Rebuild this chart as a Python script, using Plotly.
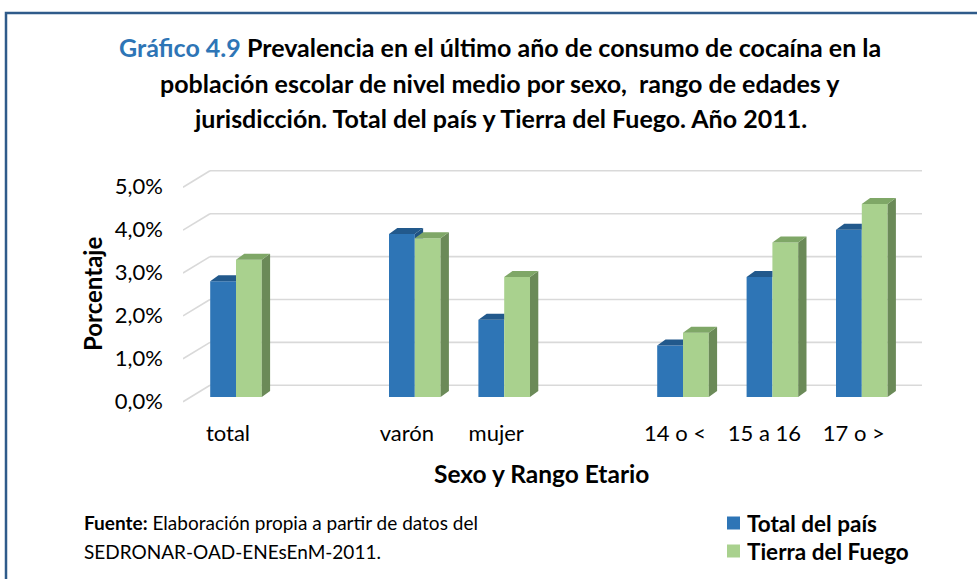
import plotly.graph_objects as go

# ---------------- data ----------------
categories = ["total", "varón", "mujer", "14 o <", "15 a 16", "17 o >"]
total_pais = [2.7, 3.8, 1.8, 1.2, 2.8, 3.9]
tierra_fuego = [3.2, 3.7, 2.8, 1.5, 3.6, 4.5]
series_names = ["Total del país", "Tierra del Fuego"]
y_ticks = [0, 1, 2, 3, 4, 5]
y_tick_text = ["0,0%", "1,0%", "2,0%", "3,0%", "4,0%", "5,0%"]

# ---------------- layout geometry (pixels) ----------------
W, H = 977, 579
PL, PR, PT, PB = 183, 922, 150, 410       # plot area
SLOT_PX = 89.4                              # px per category slot
UNIT_PX = 42.9                              # px per 1 %
X0_PX = 236                                 # px of first slot (bar junction)
Y0_PX = 397                                 # px of 0 % on bar front plane
GROUP_STARTS = {"varón", "14 o <"}          # an empty slot precedes these

FONT = "Lato, Carlito, 'Liberation Sans', sans-serif"
BLUE, BLUE_TOP, BLUE_SIDE = "#2E75B6", "#22598C", "#1F5283"
GREEN, GREEN_TOP, GREEN_SIDE = "#A9D18E", "#7FA767", "#6B8A58"
GRID = "#D9D9D9"
SERIES_COLORS = [BLUE, GREEN]

x_range = [(PL - X0_PX) / SLOT_PX, (PR - X0_PX) / SLOT_PX]
y_range = [-(PB - Y0_PX) / UNIT_PX, (Y0_PX - PT) / UNIT_PX]

BAR_W = 25.8 / SLOT_PX
DX = 8.3 / SLOT_PX          # depth offset in x units
DY = 6.0 / UNIT_PX          # depth offset in y units
FRONT_SHIFT_X = 8.0 / SLOT_PX
BACK_DY = (Y0_PX - 385.3) / UNIT_PX
FRONT_DY = (401.7 - Y0_PX) / UNIT_PX
BACK_X = (210 - X0_PX) / SLOT_PX


def px2paper(px, py):
    return (px - PL) / (PR - PL), (PB - py) / (PB - PT)


# slot positions
positions = []
slot = 0
for i, c in enumerate(categories):
    if i > 0:
        slot += 1
        if c in GROUP_STARTS:
            slot += 1
    positions.append(slot)


# ---------------- polygon helpers ----------------
def clip(poly, inside, inter):
    out = []
    n = len(poly)
    for i in range(n):
        cur, prev = poly[i], poly[i - 1]
        if inside(cur):
            if not inside(prev):
                out.append(inter(prev, cur))
            out.append(cur)
        elif inside(prev):
            out.append(inter(prev, cur))
    return out


def vx(c):
    def f(p, q):
        t = (c - p[0]) / (q[0] - p[0])
        return (c, p[1] + t * (q[1] - p[1]))
    return f


def hy(c):
    def f(p, q):
        t = (c - p[1]) / (q[1] - p[1])
        return (p[0] + t * (q[0] - p[0]), c)
    return f


def area(poly):
    s = 0.0
    for i in range(len(poly)):
        x1, y1 = poly[i - 1]
        x2, y2 = poly[i]
        s += x1 * y2 - x2 * y1
    return abs(s) / 2


def minus_front(poly, xr, hg):
    """Part of poly not hidden by the front rectangle x>=xr, y<=hg."""
    pieces = []
    a = clip(poly, lambda p: p[0] <= xr + 1e-12, vx(xr))
    if len(a) >= 3 and area(a) > 1e-9:
        pieces.append(a)
    b = clip(poly, lambda p: p[0] >= xr - 1e-12, vx(xr))
    if len(b) >= 3:
        b = clip(b, lambda p: p[1] >= hg - 1e-12, hy(hg))
        if len(b) >= 3 and area(b) > 1e-9:
            pieces.append(b)
    return pieces


def top_face(xl, xr, h):
    return [(xl, h), (xr, h), (xr + DX, h + DY), (xl + DX, h + DY)]


def side_face(xr, h):
    return [(xr, 0), (xr + DX, DY), (xr + DX, h + DY), (xr, h)]


def poly_trace(polys, color):
    xs, ys = [], []
    for p in polys:
        for (x, y) in p:
            xs.append(x)
            ys.append(y)
        xs.append(p[0][0])
        ys.append(p[0][1])
        xs.append(None)
        ys.append(None)
    return go.Scatter(x=xs, y=ys, mode="lines", fill="toself", fillcolor=color,
                      line=dict(width=0, color=color), hoverinfo="skip",
                      showlegend=False)


blue_top, blue_side, green_top, green_side = [], [], [], []
for p, hb, hg in zip(positions, total_pais, tierra_fuego):
    xl, xr = p - BAR_W, p
    blue_top += minus_front(top_face(xl, xr, hb), xr, hg)
    blue_side += minus_front(side_face(xr, hb), xr, hg)
    green_top.append(top_face(xr, xr + BAR_W, hg))
    green_side.append(side_face(xr + BAR_W, hg))

fig = go.Figure()
fig.add_trace(go.Bar(x=positions, y=total_pais, name=series_names[0], showlegend=False,
                     width=BAR_W, offset=-BAR_W, marker=dict(color=BLUE, line=dict(width=0))))
fig.add_trace(go.Bar(x=positions, y=tierra_fuego, name=series_names[1], showlegend=False,
                     width=BAR_W, offset=0, marker=dict(color=GREEN, line=dict(width=0))))
fig.add_trace(poly_trace(blue_side, BLUE_SIDE))
fig.add_trace(poly_trace(blue_top, BLUE_TOP))
fig.add_trace(poly_trace(green_side, GREEN_SIDE))
fig.add_trace(poly_trace(green_top, GREEN_TOP))

# back-wall gridlines and floor diagonals
shapes = []
for v in y_ticks:
    shapes.append(dict(type="line", xref="x", yref="y", layer="below",
                       x0=BACK_X, x1=x_range[1], y0=v + BACK_DY, y1=v + BACK_DY,
                       line=dict(color=GRID, width=1.6)))
    shapes.append(dict(type="line", xref="x", yref="y", layer="below",
                       x0=x_range[0], x1=BACK_X, y0=v - FRONT_DY, y1=v + BACK_DY,
                       line=dict(color=GRID, width=1.6)))

# outer frame
fx0, fy0 = px2paper(6, 13)
fx1, fy1 = px2paper(1000, 620)
shapes.append(dict(type="rect", xref="paper", yref="paper", x0=fx0, y0=fy0, x1=fx1, y1=fy1,
                   line=dict(color="#2F5B8A", width=2.5), fillcolor="rgba(0,0,0,0)"))

annotations = []
title_lines = [
    "<span style='color:#2E75B6'>Gráfico 4.9</span> Prevalencia en el último año de consumo de cocaína en la",
    "población escolar de nivel medio por sexo,  rango de edades y",
    "jurisdicción. Total del país y Tierra del Fuego. Año 2011.",
]
for line, py in zip(title_lines, [47, 83, 118]):
    ax, ay = px2paper(500, py)
    annotations.append(dict(text="<b>" + line + "</b>", x=ax, y=ay, xref="paper", yref="paper",
                            xanchor="center", yanchor="middle", showarrow=False,
                            font=dict(family=FONT, size=25, color="#000000")))

ax, ay = px2paper(92, 294)
annotations.append(dict(text="<b>Porcentaje</b>", x=ax, y=ay, xref="paper", yref="paper",
                        textangle=-90, xanchor="center", yanchor="middle", showarrow=False,
                        font=dict(family=FONT, size=24, color="#000000")))
ax, ay = px2paper(541, 473)
annotations.append(dict(text="<b>Sexo y Rango Etario</b>", x=ax, y=ay, xref="paper", yref="paper",
                        xanchor="center", yanchor="middle", showarrow=False,
                        font=dict(family=FONT, size=24.5, color="#000000")))
for line, py in zip(["<b>Fuente:</b> Elaboración propia a partir de datos del",
                     "SEDRONAR-OAD-ENEsEnM-2011."], [522, 551]):
    ax, ay = px2paper(82, py)
    annotations.append(dict(text=line, x=ax, y=ay, xref="paper", yref="paper",
                            xanchor="left", yanchor="middle", showarrow=False,
                            font=dict(family=FONT, size=19, color="#000000")))

# legend (swatch + bold label per series)
for name, color, py in zip(series_names, SERIES_COLORS, [523, 551]):
    sx0, sy0 = px2paper(727, py + 6.5)
    sx1, sy1 = px2paper(740, py - 6.5)
    shapes.append(dict(type="rect", xref="paper", yref="paper", x0=sx0, y0=sy0, x1=sx1, y1=sy1,
                       line=dict(width=0), fillcolor=color))
    ax, ay = px2paper(745, py)
    annotations.append(dict(text="<b>" + name + "</b>", x=ax, y=ay, xref="paper", yref="paper",
                            xanchor="left", yanchor="middle", showarrow=False,
                            font=dict(family=FONT, size=22.5, color="#000000")))

fig.update_layout(
    width=W, height=H, autosize=False,
    margin=dict(l=PL, r=W - PR, t=PT, b=H - PB, pad=0, autoexpand=False),
    paper_bgcolor="white", plot_bgcolor="white",
    barmode="overlay",
    shapes=shapes, annotations=annotations,
    showlegend=False,
    font=dict(family=FONT, color="#000000"),
)
fig.update_xaxes(range=x_range, tickvals=[p - FRONT_SHIFT_X for p in positions],
                 ticktext=categories, showgrid=False, zeroline=False, showline=False,
                 ticks="", ticklabelstandoff=8,
                 tickfont=dict(family=FONT, size=22, color="#000000"))
fig.update_yaxes(range=y_range, tickvals=y_ticks, ticktext=y_tick_text,
                 showgrid=False, zeroline=False, showline=False,
                 ticks="", ticklabelstandoff=19, ticklabelshift=4,
                 tickfont=dict(family=FONT, size=22, color="#000000"))

fig.write_html("out.html", config={"displayModeBar": False},
               post_script="document.body.style.margin='0px';")
